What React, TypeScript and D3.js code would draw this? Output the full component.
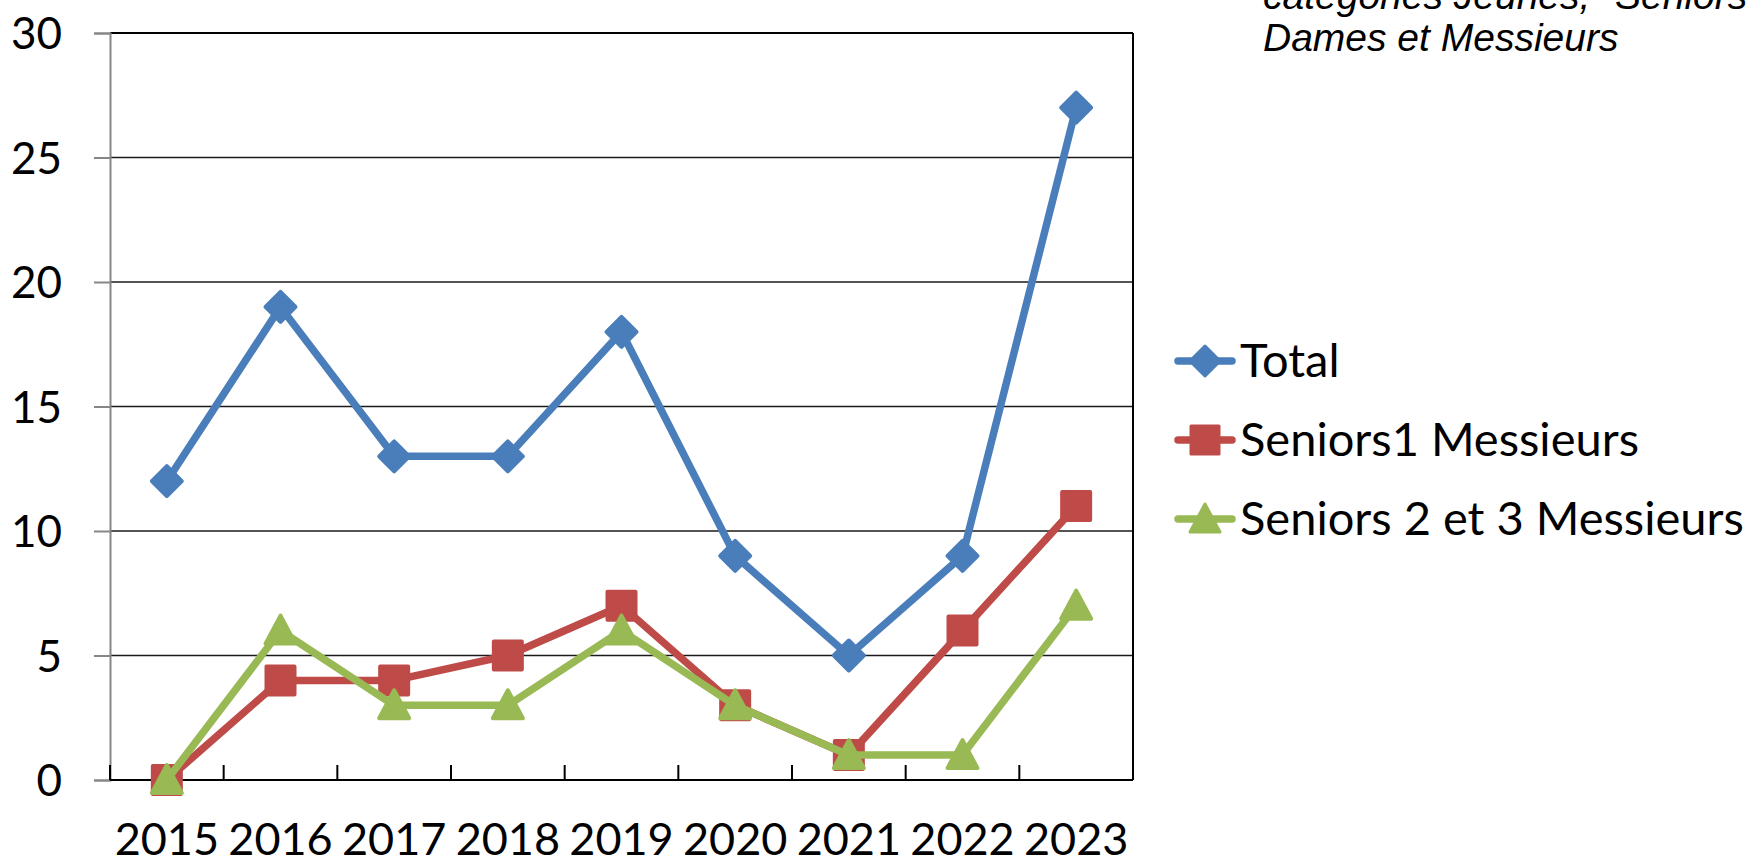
import React, { useEffect, useRef } from 'react';
import * as d3 from 'd3';

const years = ['2015', '2016', '2017', '2018', '2019', '2020', '2021', '2022', '2023'];
const total = [12, 19, 13, 13, 18, 9, 5, 9, 27];
const seniors1 = [0, 4, 4, 5, 7, 3, 1, 6, 11];
const seniors23 = [0, 6, 3, 3, 6, 3, 1, 1, 7];
const yTicks = [0, 5, 10, 15, 20, 25, 30];
const seriesNames = ['Total', 'Seniors1 Messieurs', 'Seniors 2 et 3 Messieurs'];
const seriesColors = ['#4a7ebb', '#be4b48', '#98b954'];
const noteLines = ['catégories Jeunes, "Seniors"', 'Dames et Messieurs'];

const FONT = 'Lato, Calibri, sans-serif';

export default function App() {
  const ref = useRef<SVGSVGElement>(null);

  useEffect(() => {
    const width = 1751;
    const height = 864;
    const svg = d3.select(ref.current);
    svg.selectAll('*').remove();
    svg.attr('viewBox', `0 0 ${width} ${height}`);

    const left = 110;
    const right = 1133;
    const top = 33;
    const bottom = 780;

    const x = d3.scaleBand().domain(years).range([left, right]);
    const y = d3.scaleLinear().domain([0, 30]).range([bottom, top]);

    // gridlines
    svg
      .append('g')
      .selectAll('line')
      .data(yTicks.filter((t) => t > 0))
      .join('line')
      .attr('x1', left)
      .attr('x2', right)
      .attr('y1', (d) => y(d))
      .attr('y2', (d) => y(d))
      .attr('stroke', (d) => (d === 30 ? '#000' : '#1a1a1a'))
      .attr('stroke-width', (d) => (d === 30 ? 2 : 1.5));

    // right border
    svg
      .append('line')
      .attr('x1', right)
      .attr('x2', right)
      .attr('y1', top)
      .attr('y2', bottom)
      .attr('stroke', '#000')
      .attr('stroke-width', 2);

    // y axis
    const yAxis = d3
      .axisLeft(y)
      .tickValues(yTicks)
      .tickSize(16)
      .tickPadding(32)
      .tickFormat(d3.format('d'));
    const gy = svg.append('g').attr('transform', `translate(${left},0)`).call(yAxis);
    gy.select('.domain').attr('stroke', '#868686').attr('stroke-width', 2);
    gy.selectAll('.tick line').attr('stroke', '#868686').attr('stroke-width', 2);
    gy.selectAll('.tick text')
      .attr('font-family', FONT)
      .attr('font-size', 44)
      .attr('fill', '#000')
      .attr('dy', '0.36em');

    // x axis
    const gx = svg.append('g');
    gx.append('line')
      .attr('x1', left)
      .attr('x2', right)
      .attr('y1', bottom)
      .attr('y2', bottom)
      .attr('stroke', '#000')
      .attr('stroke-width', 2);
    const boundaries = years.map((yr) => x(yr) as number).concat([right]);
    gx.selectAll('line.tk')
      .data(boundaries)
      .join('line')
      .attr('class', 'tk')
      .attr('x1', (d) => d)
      .attr('x2', (d) => d)
      .attr('y1', bottom)
      .attr('y2', bottom - 15)
      .attr('stroke', '#000')
      .attr('stroke-width', 2);
    gx.selectAll('text')
      .data(years)
      .join('text')
      .attr('x', (d) => (x(d) as number) + x.bandwidth() / 2)
      .attr('y', 855)
      .attr('text-anchor', 'middle')
      .attr('font-family', FONT)
      .attr('font-size', 45)
      .attr('fill', '#000')
      .text((d) => d);

    const series = [total, seniors1, seniors23];
    const shapes = ['diamond', 'square', 'triangle'];

    const markerPath = (shape: string) => {
      if (shape === 'diamond') return 'M0,-15L15,0L0,15L-15,0Z';
      if (shape === 'square') return 'M-14,-14L14,-14L14,14L-14,14Z';
      return 'M0,-15L15,13L-15,13Z';
    };

    const line = d3
      .line<number>()
      .x((_, i) => (x(years[i]) as number) + x.bandwidth() / 2)
      .y((d) => y(d));

    series.forEach((vals, si) => {
      const g = svg.append('g');
      g.append('path')
        .datum(vals)
        .attr('fill', 'none')
        .attr('stroke', seriesColors[si])
        .attr('stroke-width', 7.5)
        .attr('stroke-linejoin', 'round')
        .attr('stroke-linecap', 'round')
        .attr('d', line);
      g.selectAll('path.m')
        .data(vals)
        .join('path')
        .attr('class', 'm')
        .attr(
          'transform',
          (d, i) => `translate(${(x(years[i]) as number) + x.bandwidth() / 2},${y(d)})`,
        )
        .attr('d', markerPath(shapes[si]))
        .attr('fill', seriesColors[si])
        .attr('stroke', seriesColors[si])
        .attr('stroke-width', 4)
        .attr('stroke-linejoin', 'round');
    });

    // legend
    const legend = svg.append('g');
    seriesNames.forEach((name, i) => {
      const cy = 361 + i * 79;
      legend
        .append('line')
        .attr('x1', 1178)
        .attr('x2', 1232)
        .attr('y1', cy)
        .attr('y2', cy)
        .attr('stroke', seriesColors[i])
        .attr('stroke-width', 7.5)
        .attr('stroke-linecap', 'round');
      legend
        .append('path')
        .attr('transform', `translate(1205,${cy})`)
        .attr('d', markerPath(shapes[i]))
        .attr('fill', seriesColors[i])
        .attr('stroke', seriesColors[i])
        .attr('stroke-width', 3)
        .attr('stroke-linejoin', 'round');
      legend
        .append('text')
        .attr('x', 1240)
        .attr('y', cy + 16)
        .attr('font-family', FONT)
        .attr('font-size', 47)
        .attr('fill', '#000')
        .text(name);
    });

    // note at top right (cut by the page edge)
    svg
      .append('g')
      .selectAll('text')
      .data(noteLines)
      .join('text')
      .attr('x', 1263)
      .attr('y', (_, i) => 9 + i * 42)
      .attr('font-family', '"Liberation Sans", Arial, sans-serif')
      .attr('font-style', 'italic')
      .attr('font-size', 39)
      .attr('fill', '#000')
      .text((d) => d);
  }, []);

  return (
    <svg
      ref={ref}
      width={1751}
      height={864}
      style={{ position: 'absolute', left: 0, top: 0, background: '#fff' }}
    ></svg>
  );
}
